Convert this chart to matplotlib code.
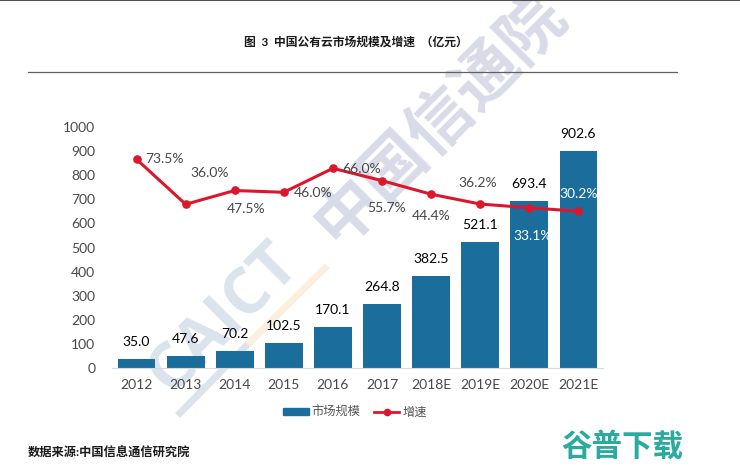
import matplotlib.pyplot as plt
from matplotlib.lines import Line2D

plt.rcParams['font.family'] = ['Lato', 'Noto Sans CJK SC', 'DejaVu Sans']

years = ['2012', '2013', '2014', '2015', '2016', '2017', '2018E', '2019E', '2020E', '2021E']
market = [35.0, 47.6, 70.2, 102.5, 170.1, 264.8, 382.5, 521.1, 693.4, 902.6]
growth = [73.5, 36.0, 47.5, 46.0, 66.0, 55.7, 44.4, 36.2, 33.1, 30.2]
yticks = [0, 100, 200, 300, 400, 500, 600, 700, 800, 900, 1000]

W, H = 740, 469
BLUE = '#1b6d9c'
RED = '#dc172b'

fig = plt.figure(figsize=(W / 100, H / 100), dpi=100)
ax = fig.add_axes([112 / W, 1 - 367.5 / H, 491 / W, 240 / H])
ax.patch.set_alpha(0)

x = list(range(len(years)))
ax.bar(x, market, width=0.77, color=BLUE, zorder=2)
ax.set_xlim(-0.5, 9.5)
ax.set_ylim(0, 1000)
ax.set_xticks(x, years)
ax.set_yticks(yticks)
ax.tick_params(length=0, labelsize=10, labelcolor='#484848', pad=8)
ax.tick_params(axis='y', labelsize=10, pad=12)
for s in ['top', 'right', 'left']:
    ax.spines[s].set_visible(False)
ax.spines['bottom'].set_color('#d9d9d9')
for i, v in zip(x, market):
    ax.annotate('%.1f' % v, (i, v), xytext=(0, 17), textcoords='offset pixels', ha='center', va='center',
                fontsize=10, color='black', zorder=5)

ax2 = ax.twinx()
ax2.set_ylim(-100, 100)
ax2.axis('off')
ax2.plot(x, growth, color=RED, lw=2.2, marker='o', ms=5.2, zorder=4)

# growth labels sit around the line, offsets in pixels
offsets = [(28, 0), (24, 31), (11, -18), (29, -1), (29, -1), (4, -27), (0, -22), (-3, 21), (3, -28), (0, 17)]
label_colors = ['#484848'] * 8 + ['white', 'white']
for i, v, off, c in zip(x, growth, offsets, label_colors):
    ax2.annotate('%.1f%%' % v, (i, v), xytext=off, textcoords='offset pixels', ha='center', va='center',
                 fontsize=10, color=c, zorder=6)

handles = [plt.Rectangle((0, 0), 1, 1, color=BLUE),
           Line2D([0], [0], color=RED, lw=2.0, marker='o', ms=4.5)]
fig.legend(handles, ['市场规模', '增速'], loc='center', bbox_to_anchor=(355 / W, 1 - 412 / H), ncol=2, frameon=False,
           fontsize=8.8, labelcolor='#555555', handlelength=2.1, handleheight=0.55, handletextpad=0.25, columnspacing=1.05)

# header and footer
fig.text(356 / W, 1 - 42 / H, '图  3  中国公有云市场规模及增速  （亿元）', ha='center', va='center', fontsize=8.5,
         fontweight='bold', color='#1a1a1a')
fig.add_artist(Line2D([28 / W, 677 / W], [1 - 72 / H] * 2, color='#606060', lw=0.9))
fig.add_artist(Line2D([0, 1], [1 - 0.5 / H] * 2, color='#505050', lw=1.5))
fig.text(28 / W, 1 - 453 / H, '数据来源:中国信息通信研究院', ha='left', va='center', fontsize=8.8, fontweight='bold',
         color='#1a1a1a')

# watermarks
fig.text(159 / W, 1 - 384 / H, 'CAICT', rotation=45, rotation_mode='anchor', ha='left', va='center', fontsize=46,
         fontweight='bold', family=['Open Sans'], color='#dbe3ec', zorder=-1)
fig.text(324 / W, 1 - 233 / H, '中国信通院', rotation=45, rotation_mode='anchor', ha='left', va='center', fontsize=47,
         fontweight='bold', color='#d9dce8', zorder=-1)
fig.add_artist(Line2D([180 / W, 250 / W], [1 - 413 / H, 1 - 342 / H], color='#dbe3ec', lw=5, zorder=-1))
fig.add_artist(Line2D([250 / W, 325 / W], [1 - 342 / H, 1 - 268 / H], color='#fcefe0', lw=5, zorder=-1))
fig.text(622.5 / W, 1 - 446 / H, '谷普下载', ha='center', va='center', fontsize=22, fontweight='bold', color='#2bab9f')

fig.savefig('out.png', dpi=100)
